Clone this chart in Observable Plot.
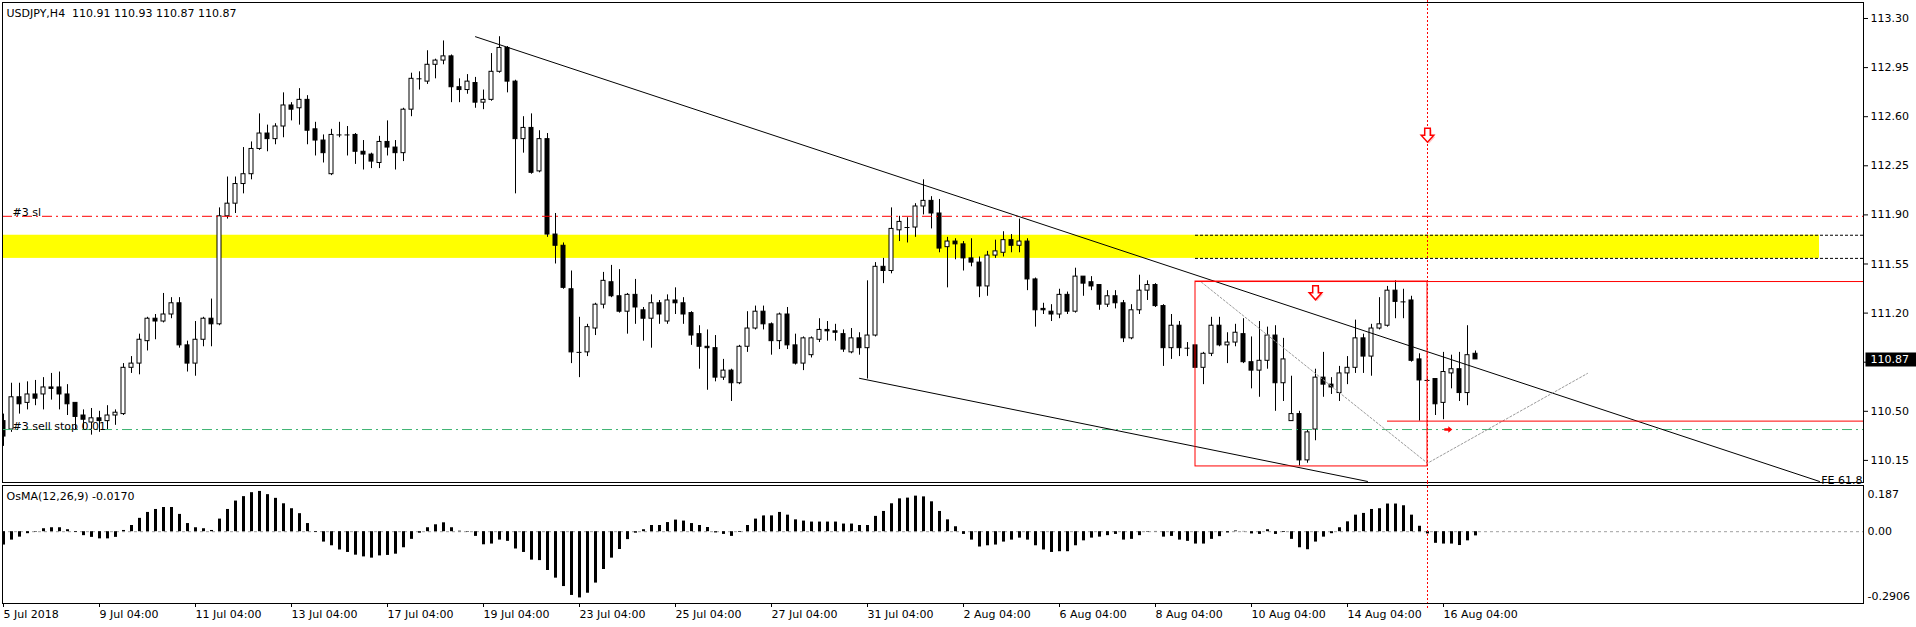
<!DOCTYPE html>
<html><head><meta charset="utf-8">
<script src="https://cdn.jsdelivr.net/npm/d3@7"></script>
<script src="https://cdn.jsdelivr.net/npm/@observablehq/plot@0.6"></script>
<style>
html,body{margin:0;padding:0;background:#fff;overflow:hidden}
#chart{position:relative;width:1916px;height:627px}
#chart svg{position:absolute;left:0;max-width:none}
</style></head><body><div id="chart"></div>
<script>
const symbolName = "USDJPY", timeframe = "H4";
const opens = [110.43,110.37,110.60,110.56,110.62,110.62,110.67,110.67,110.62,110.56,
110.47,110.42,110.45,110.43,110.47,110.48,110.81,110.84,111.00,111.16,
111.14,111.19,111.27,110.97,110.84,111.01,111.16,111.12,111.89,111.98,
112.12,112.19,112.37,112.48,112.44,112.53,112.68,112.66,112.72,112.51,
112.43,112.19,112.47,112.47,112.47,112.35,112.33,112.27,112.42,112.38,
112.34,112.65,112.87,112.85,112.97,113.00,113.03,112.81,112.79,112.84,
112.70,112.72,112.92,113.09,112.85,112.44,112.52,112.21,112.44,111.76,
111.68,111.37,110.92,110.92,111.09,111.26,111.42,111.32,111.21,111.33,
111.22,111.16,111.27,111.14,111.29,111.27,111.20,111.05,110.96,110.95,
110.74,110.79,110.70,110.96,111.09,111.21,111.12,111.00,111.19,110.97,
110.84,110.90,111.01,111.08,111.07,111.05,110.92,111.02,110.95,111.04,
111.53,111.50,111.79,111.81,111.81,111.96,112.00,111.91,111.67,111.71,
111.69,111.59,111.56,111.39,111.61,111.63,111.72,111.68,111.71,111.44,
111.23,111.21,111.19,111.33,111.21,111.46,111.42,111.40,111.26,111.32,
111.27,111.02,111.22,111.36,111.40,111.25,110.95,111.11,110.95,110.97,
110.81,110.91,111.11,110.97,110.99,111.05,110.85,110.79,110.86,111.04,
110.70,110.43,110.48,110.15,110.37,110.74,110.69,110.63,110.77,110.81,
111.02,110.89,111.09,111.11,111.36,111.28,111.29,110.87,110.72,110.73,
110.56,110.77,110.80,110.63,110.91];
const highs = [110.48,110.70,110.70,110.71,110.72,110.74,110.77,110.78,110.69,110.56,
110.51,110.52,110.50,110.54,110.51,110.84,110.89,111.05,111.17,111.19,
111.34,111.31,111.31,111.00,111.14,111.17,111.30,111.95,112.17,112.17,
112.38,112.42,112.62,112.54,112.55,112.77,112.70,112.80,112.75,112.56,
112.47,112.51,112.56,112.53,112.48,112.43,112.34,112.46,112.57,112.43,
112.66,112.91,112.92,113.07,113.01,113.14,113.04,112.87,112.90,112.88,
112.79,113.05,113.17,113.10,112.86,112.60,112.62,112.50,112.48,111.91,
111.70,111.50,111.17,111.12,111.27,111.49,111.54,111.51,111.34,111.44,
111.24,111.33,111.29,111.33,111.38,111.31,111.21,111.11,111.08,111.04,
110.87,110.80,110.97,111.21,111.25,111.25,111.13,111.20,111.24,111.05,
111.03,111.03,111.16,111.14,111.12,111.08,111.09,111.06,111.43,111.56,
111.59,111.95,111.89,111.88,111.98,112.15,112.03,112.01,111.74,111.73,
111.71,111.73,111.60,111.64,111.72,111.78,111.76,111.87,111.73,111.45,
111.27,111.26,111.37,111.35,111.52,111.46,111.46,111.40,111.36,111.36,
111.29,111.26,111.47,111.43,111.41,111.26,111.19,111.14,110.99,110.97,
110.92,111.17,111.17,111.06,111.12,111.16,111.03,111.14,111.10,111.11,
111.02,110.75,110.50,110.37,110.80,110.92,110.74,110.82,110.89,111.15,
111.05,111.12,111.31,111.39,111.43,111.37,111.32,110.91,110.73,110.73,
110.92,110.90,110.92,111.11,110.93];
const lows = [110.25,110.35,110.48,110.51,110.54,110.51,110.58,110.51,110.47,110.37,
110.37,110.33,110.35,110.37,110.40,110.47,110.77,110.76,110.93,111.01,
111.13,111.16,110.95,110.78,110.75,110.96,110.96,111.11,111.87,111.91,
112.05,112.15,112.36,112.35,112.40,112.45,112.57,112.54,112.40,112.32,
112.27,112.18,112.45,112.32,112.26,112.22,112.23,112.23,112.32,112.22,
112.28,112.60,112.79,112.83,112.87,112.97,112.70,112.70,112.76,112.66,
112.65,112.71,112.91,112.77,112.05,112.34,112.19,112.20,111.74,111.55,
111.37,110.84,110.74,110.89,111.04,111.23,111.31,111.20,111.05,111.12,
111.00,110.95,111.12,111.12,111.19,111.12,110.97,110.80,110.65,110.71,
110.72,110.57,110.69,110.92,111.08,111.08,110.90,110.94,110.94,110.83,
110.79,110.88,110.99,111.00,111.00,110.92,110.91,110.90,110.73,111.03,
111.41,111.48,111.71,111.70,111.74,111.90,111.80,111.63,111.38,111.58,
111.50,111.53,111.31,111.32,111.59,111.60,111.63,111.63,111.36,111.10,
111.19,111.14,111.16,111.19,111.20,111.32,111.36,111.22,111.24,111.23,
110.99,111.01,111.19,111.29,111.24,110.82,110.87,110.89,110.89,110.81,
110.69,110.89,110.96,110.84,110.96,110.84,110.66,110.60,110.80,110.50,
110.57,110.43,110.11,110.13,110.29,110.60,110.62,110.57,110.69,110.77,
110.77,110.75,111.08,111.10,111.16,111.16,110.85,110.43,110.71,110.47,
110.44,110.66,110.57,110.54,110.87];
const closes = [110.32,110.60,110.55,110.62,110.59,110.67,110.66,110.62,110.55,110.46,
110.44,110.45,110.43,110.47,110.49,110.81,110.84,111.01,111.16,111.14,
111.19,111.27,110.97,110.84,111.01,111.16,111.12,111.89,111.98,112.12,
112.19,112.37,112.48,112.44,112.53,112.68,112.65,112.72,112.50,112.43,
112.34,112.47,112.47,112.47,112.35,112.33,112.28,112.42,112.38,112.34,
112.65,112.87,112.87,112.97,113.00,113.03,112.81,112.79,112.85,112.70,
112.72,112.92,113.09,112.85,112.44,112.52,112.20,112.44,111.76,111.68,
111.38,110.92,110.92,111.10,111.26,111.43,111.32,111.21,111.33,111.24,
111.16,111.27,111.19,111.29,111.27,111.19,111.04,110.96,110.95,110.74,
110.79,110.70,110.96,111.09,111.21,111.12,111.00,111.19,110.97,110.84,
111.02,111.02,111.08,111.07,111.06,110.94,111.02,110.95,111.04,111.53,
111.50,111.80,111.85,111.81,111.96,112.00,111.91,111.66,111.71,111.69,
111.59,111.56,111.39,111.61,111.64,111.72,111.68,111.71,111.44,111.22,
111.22,111.19,111.33,111.21,111.46,111.41,111.39,111.26,111.32,111.27,
111.02,111.22,111.36,111.40,111.25,110.95,111.11,110.95,110.95,110.81,
110.91,111.11,110.97,110.99,111.06,110.85,110.79,110.86,111.04,110.70,
110.87,110.48,110.15,110.35,110.74,110.69,110.67,110.77,110.81,111.02,
110.89,111.09,111.12,111.36,111.28,111.28,110.86,110.72,110.72,110.55,
110.78,110.80,110.63,110.90,110.87];
const osmaParams = [12, 26, 9];
const osma = [-0.054,-0.034,-0.022,-0.008,-0.002,0.012,0.016,0.016,0.008,-0.003,
-0.016,-0.023,-0.029,-0.029,-0.023,0.005,0.025,0.054,0.078,0.090,
0.098,0.098,0.070,0.033,0.016,0.012,0.005,0.051,0.090,0.124,
0.142,0.158,0.163,0.150,0.135,0.113,0.093,0.073,0.033,-0.003,
-0.042,-0.057,-0.074,-0.084,-0.095,-0.102,-0.107,-0.098,-0.096,-0.091,
-0.065,-0.031,-0.006,0.016,0.028,0.036,0.016,0.002,-0.002,-0.019,
-0.053,-0.050,-0.034,-0.039,-0.070,-0.084,-0.115,-0.117,-0.157,-0.188,
-0.222,-0.258,-0.268,-0.249,-0.208,-0.153,-0.107,-0.072,-0.032,-0.006,
0.008,0.025,0.025,0.037,0.047,0.043,0.033,0.025,0.017,-0.005,
-0.011,-0.019,-0.003,0.025,0.051,0.064,0.064,0.078,0.067,0.048,
0.043,0.039,0.039,0.039,0.039,0.031,0.031,0.025,0.025,0.062,
0.082,0.113,0.133,0.136,0.144,0.141,0.121,0.082,0.048,0.020,
-0.011,-0.034,-0.062,-0.057,-0.054,-0.042,-0.034,-0.026,-0.034,-0.057,
-0.074,-0.084,-0.081,-0.081,-0.057,-0.037,-0.026,-0.022,-0.016,-0.011,
-0.034,-0.031,-0.016,-0.002,0.001,-0.022,-0.019,-0.034,-0.039,-0.050,
-0.050,-0.031,-0.020,-0.005,0.003,0.001,-0.009,-0.011,0.008,-0.011,
-0.003,-0.031,-0.065,-0.073,-0.042,-0.022,-0.008,0.016,0.040,0.067,
0.074,0.090,0.093,0.112,0.112,0.105,0.067,0.022,-0.009,-0.047,
-0.050,-0.050,-0.056,-0.037,-0.017];
const tickBars = [0,12,24,36,48,60,72,84,96,108,120,132,144,156,168,180];
const tickLabels = ["5 Jul 2018","9 Jul 04:00","11 Jul 04:00","13 Jul 04:00","17 Jul 04:00","19 Jul 04:00","23 Jul 04:00","25 Jul 04:00","27 Jul 04:00","31 Jul 04:00","2 Aug 04:00","6 Aug 04:00","8 Aug 04:00","10 Aug 04:00","14 Aug 04:00","16 Aug 04:00"];
const priceTicks = [113.30,112.95,112.60,112.25,111.90,111.55,111.20,110.85,110.50,110.15];
const osmaTicks = [0.187, 0, -0.2906];
const osmaTickLabels = ["0.187", "0.00", "-0.2906"];
const orderLines = [{p:111.89, label:"#3 sl", color:"#ff0000"}, {p:110.37, label:"#3 sell stop 0.01", color:"#3cb371"}];
const supplyZone = {from:-1, to:227, lo:111.59, hi:111.755};
const zoneEdgeFrom = 149;
const redBox = {from:149, to:178, lo:110.107, hi:111.425};
const redRays = [{p:111.425, from:149}, {p:110.43, from:173}];
const upperTrend = [{i:59, p:113.17}, {i:227, p:110.00}];
const lowerTrend = [{i:107, p:110.735}, {i:170.5, p:110.00}];
const fiboPoints = [{i:149.75, p:111.42}, {i:178, p:110.13}, {i:198, p:110.77}];
const fiboLabel = {label:"FE 61.8", p:110.00};
const sellArrows = [{i:164, p:111.345}, {i:178, p:112.468}];
const entryArrow = [{i:180.6, p:110.37}];
const markerBar = 178;

const xDomain = [-0.125, 232.5];
const font = "'DejaVu Sans', sans-serif";
const candles = opens.map((o, i) => ({i, open:o, high:highs[i], low:lows[i], close:closes[i]}));
const last = candles[candles.length - 1];
const headerText = `${symbolName},${timeframe}\u00a0 ${[last.open,last.high,last.low,last.close].map(v=>v.toFixed(2)).join(" ")}`;
const osmaData = osma.map((v, i) => ({i, v}));
const osmaText = `OsMA(${osmaParams.join(",")}) ${osma[osma.length-1].toFixed(4)}`;

const hollowDown = {draw(ctx, size){ const s = Math.sqrt(size/Math.PI);
  ctx.moveTo(-0.4*s,-s); ctx.lineTo(0.4*s,-s); ctx.lineTo(0.4*s,0); ctx.lineTo(0.9*s,0);
  ctx.lineTo(0,s); ctx.lineTo(-0.9*s,0); ctx.lineTo(-0.4*s,0); ctx.closePath(); }};
const rightArrow = {draw(ctx, size){ const s = Math.sqrt(size/Math.PI);
  ctx.moveTo(-s,-0.3*s); ctx.lineTo(0,-0.3*s); ctx.lineTo(0,-0.8*s); ctx.lineTo(s,0);
  ctx.lineTo(0,0.8*s); ctx.lineTo(0,0.3*s); ctx.lineTo(-s,0.3*s); ctx.closePath(); }};
const priceBox = {draw(ctx){ ctx.rect(2, -7, 51, 14); }};

const up = candles.filter(d => d.close > d.open);
const down = candles.filter(d => d.close < d.open);
const doji = candles.filter(d => d.close === d.open);

const main = Plot.plot({
  width: 1916, height: 485,
  marginLeft: 2, marginRight: 53, marginTop: 2, marginBottom: 3,
  style: {fontFamily: font, fontSize: "11px", background: "transparent", color: "black", overflow: "visible"},
  x: {type: "linear", domain: xDomain, axis: null, label: null},
  y: {type: "linear", domain: [109.9925, 113.414], label: null},
  marks: [
    Plot.rect([supplyZone], {x1:"from", x2:"to", y1:"lo", y2:"hi", fill:"#ffff00", clip:true}),
    Plot.ruleY([supplyZone.lo, supplyZone.hi], {y: d=>d, x1: ()=>zoneEdgeFrom, x2: ()=>xDomain[1], stroke:"black", strokeDasharray:"3,2"}),
    Plot.ruleX(candles, {x:"i", y1:"low", y2:"high", stroke:"black", clip:true}),
    Plot.rect(up, {x1: d=>d.i-0.25, x2: d=>d.i+0.25, y1:"open", y2:"close", fill:"white", stroke:"black", clip:true}),
    Plot.rect(down, {x1: d=>d.i-0.25, x2: d=>d.i+0.25, y1:"open", y2:"close", fill:"black", stroke:"black", clip:true}),
    Plot.ruleY(doji, {y:"close", x1: d=>d.i-0.3125, x2: d=>d.i+0.3125, stroke:"black", clip:true}),
    Plot.ruleY(orderLines, {y:"p", stroke: d=>d.color, strokeDasharray:"10,4,2,4"}),
    Plot.line(upperTrend, {x:"i", y:"p", stroke:"black", strokeWidth:1, clip:true}),
    Plot.line(lowerTrend, {x:"i", y:"p", stroke:"black", strokeWidth:1, clip:true}),
    Plot.line(fiboPoints, {x:"i", y:"p", stroke:"#9a9a9a", strokeWidth:1, strokeDasharray:"2,2", clip:true}),
    Plot.rect([redBox], {x1:"from", x2:"to", y1:"lo", y2:"hi", fill:"none", stroke:"#ff0000"}),
    Plot.ruleY(redRays, {y:"p", x1:"from", x2: ()=>xDomain[1], stroke:"#ff0000"}),
    Plot.ruleX([markerBar], {x: d=>d, stroke:"#ff0000", strokeDasharray:"2,2", insetTop:-2}),
    Plot.dot(sellArrows, {x:"i", y:"p", symbol: hollowDown, r:7, fill:"#ffc8c8", stroke:"none", dx:1.5, dy:1.5}),
    Plot.dot(sellArrows, {x:"i", y:"p", symbol: hollowDown, r:7, fill:"white", stroke:"#ff0000"}),
    Plot.dot(entryArrow, {x:"i", y:"p", symbol: rightArrow, r:4, fill:"#ff0000", stroke:"none"}),
    Plot.text(orderLines, {y:"p", text: d=>d.label, frameAnchor:"left", dx:10, textAnchor:"start", lineAnchor:"bottom", fill:"black"}),
    Plot.text([fiboLabel], {x: ()=>xDomain[1], y:"p", text: d=>d.label, textAnchor:"end", lineAnchor:"bottom", dx:-1, dy:3, fill:"black"}),
    Plot.text([headerText], {text: d=>d, frameAnchor:"top-left", dx:4, dy:7, lineAnchor:"top", textAnchor:"start", fill:"black"}),
    Plot.frame({stroke:"black"}),
    Plot.axisY(priceTicks, {anchor:"right", label:null, tickSize:4, tickPadding:3, tickFormat: d=>d.toFixed(2), fontSize:11}),
    Plot.dot([last], {x: ()=>xDomain[1], y:"close", symbol: priceBox, r:4, fill:"black", stroke:"none"}),
    Plot.text([last], {x: ()=>xDomain[1], y:"close", text: d=>d.close.toFixed(2), dx:7, textAnchor:"start", fill:"white", fontSize:11})
  ]
});
main.style.top = "0px";

const osmaPlot = Plot.plot({
  width: 1916, height: 144,
  marginLeft: 2, marginRight: 53, marginTop: 2, marginBottom: 24,
  style: {fontFamily: font, fontSize: "11px", background: "transparent", color: "black", overflow: "visible"},
  x: {type: "linear", domain: xDomain, label: null},
  y: {type: "linear", domain: [-0.2906, 0.187], label: null},
  marks: [
    Plot.ruleY([0], {stroke:"#a0a0a0", strokeDasharray:"3,3"}),
    Plot.ruleX(osmaData, {x:"i", y1: ()=>0, y2:"v", stroke:"black", strokeWidth:3}),
    Plot.ruleX([markerBar], {x: d=>d, stroke:"#ff0000", strokeDasharray:"2,2", insetTop:-3, insetBottom:-5}),
    Plot.text([osmaText], {text: d=>d, frameAnchor:"top-left", dx:4, dy:7, lineAnchor:"top", textAnchor:"start", fill:"black"}),
    Plot.frame({stroke:"black"}),
    Plot.axisX(tickBars, {anchor:"bottom", label:null, tickSize:4, tickPadding:3, textAnchor:"start", fontSize:11, tickFormat: d => tickLabels[tickBars.indexOf(d)]}),
    Plot.axisY([osmaTicks[0]], {anchor:"right", label:null, tickSize:0, tickPadding:4, dy:9, fontSize:11, tickFormat: () => osmaTickLabels[0]}),
    Plot.axisY([osmaTicks[1]], {anchor:"right", label:null, tickSize:0, tickPadding:4, fontSize:11, tickFormat: () => osmaTickLabels[1]}),
    Plot.axisY([osmaTicks[2]], {anchor:"right", label:null, tickSize:0, tickPadding:4, dy:-7, fontSize:11, tickFormat: () => osmaTickLabels[2]})
  ]
});
osmaPlot.style.top = "483px";

const host = document.getElementById("chart");
host.appendChild(main);
host.appendChild(osmaPlot);
</script>
</body></html>
